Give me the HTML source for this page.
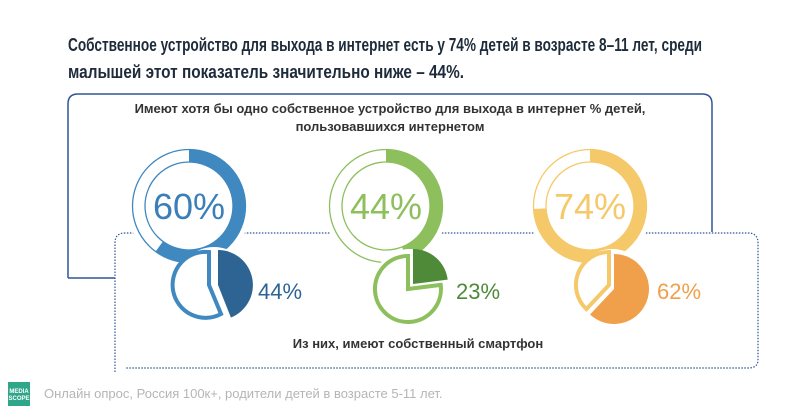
<!DOCTYPE html>
<html><head><meta charset="utf-8"><style>
body{margin:0;width:800px;height:414px;background:#fff;overflow:hidden;font-family:"Liberation Sans",sans-serif;}
</style></head><body>
<svg width="800" height="414" xmlns="http://www.w3.org/2000/svg" style="position:absolute;left:0;top:0">
<g font-family="Liberation Sans Narrow, Liberation Sans, sans-serif" font-weight="bold" font-size="18" fill="#1d2b3a">
<text x="68" y="51" textLength="634" lengthAdjust="spacingAndGlyphs">Собственное устройство для выхода в интернет есть у 74% детей в возрасте 8–11 лет, среди</text>
<text x="68" y="78" textLength="396" lengthAdjust="spacingAndGlyphs">малышей этот показатель значительно ниже – 44%.</text>
</g>
<path d="M68,278 V104 Q68,94 78,94 H702 Q712,94 712,104 V232" fill="none" stroke="#2f5597" stroke-width="1.5"/>
<line x1="68" y1="278" x2="115" y2="278" stroke="#2f5597" stroke-width="1.5"/>
<path d="M115,372 V243 Q115,233 125,233 H748 Q758,233 758,243 V360 Q758,368 748,368 H125" fill="none" stroke="#2f5597" stroke-width="1.2" stroke-dasharray="1.5 1.5"/>
<g font-weight="bold" font-size="13" fill="#333" text-anchor="middle">
<text x="390" y="113">Имеют хотя бы одно собственное устройство для выхода в интернет % детей,</text>
<text x="390" y="131">пользовавшихся интернетом</text>
<text x="418" y="348">Из них, имеют собственный смартфон</text>
</g>
<g fill="none">
<g transform="translate(189,206)">
<circle r="62" fill="#fff" stroke="none"/>
<circle r="56.5" stroke="#3f88c0" stroke-width="1.3"/><circle r="44" stroke="#3f88c0" stroke-width="1.3"/>
<circle r="50.3" stroke="#3f88c0" stroke-width="12.5" stroke-dasharray="189.6 400" transform="rotate(-90)"/>
<text y="13" text-anchor="middle" font-size="36" fill="#3a7fb8" stroke="none">60%</text>
</g>
<g transform="translate(386,206)">
<circle r="62" fill="#fff" stroke="none"/>
<circle r="56.5" stroke="#8dbf5c" stroke-width="1.3"/><circle r="44" stroke="#8dbf5c" stroke-width="1.3"/>
<circle r="50.3" stroke="#8dbf5c" stroke-width="12.5" stroke-dasharray="139 400" transform="rotate(-90)"/>
<text y="13" text-anchor="middle" font-size="36" fill="#8dbf5c" stroke="none">44%</text>
</g>
<g transform="translate(590,206)">
<circle r="62" fill="#fff" stroke="none"/>
<circle r="56.5" stroke="#f5c96a" stroke-width="1.3"/><circle r="44" stroke="#f5c96a" stroke-width="1.3"/>
<circle r="50.3" stroke="#f5c96a" stroke-width="12.5" stroke-dasharray="233.9 400" transform="rotate(-90)"/>
<text y="13" text-anchor="middle" font-size="36" fill="#f5c96a" stroke="none">74%</text>
</g>
</g>
<g transform="translate(214,285)">
<circle r="38" fill="#fff"/>
<path d="M-4,0 L8,29 A33,33 0 1 1 -4,-33 Z" fill="#fff" stroke="#3f88c0" stroke-width="4" transform="translate(-1,0)"/>
<path d="M4,0 L4,-35 A35,35 0 0 1 16.9,32.5 Z" fill="#2e6494"/>
</g>
<text x="258" y="299" font-size="22" fill="#2e6494">44%</text>
<g transform="translate(410,287)">
<circle r="38" fill="#fff"/>
<path d="M-2,2 L30.7,-2.1 A33,33 0 1 1 -2,-31 Z" fill="#fff" stroke="#8dbf5c" stroke-width="4"/>
<path d="M3,-3 L3,-38 A35,35 0 0 1 37.7,-7.4 Z" fill="#4e8a38"/>
</g>
<text x="456" y="299" font-size="22" fill="#4e8a38">23%</text>
<g transform="translate(612,287)">
<circle r="38" fill="#fff"/>
<path d="M-3,-2 L-25.6,22.1 A33,33 0 0 1 -3,-35 Z" fill="#fff" stroke="#f5c96a" stroke-width="4"/>
<path d="M2,2 L2,-33 A35,35 0 1 1 -22,27.5 Z" fill="#f0a04b"/>
</g>
<text x="657" y="299" font-size="22" fill="#f0a04b">62%</text>
<rect x="8" y="382" width="22" height="24" fill="#2fa58a"/>
<text x="19" y="393" font-size="6" font-weight="bold" fill="#fff" text-anchor="middle">MEDIA</text>
<text x="19" y="400" font-size="6" font-weight="bold" fill="#fff" text-anchor="middle">SCOPE</text>
<text x="44" y="398" font-size="13" fill="#b5b5b5">Онлайн опрос, Россия 100к+, родители детей в возрасте 5-11 лет.</text>
</svg>
</body></html>
